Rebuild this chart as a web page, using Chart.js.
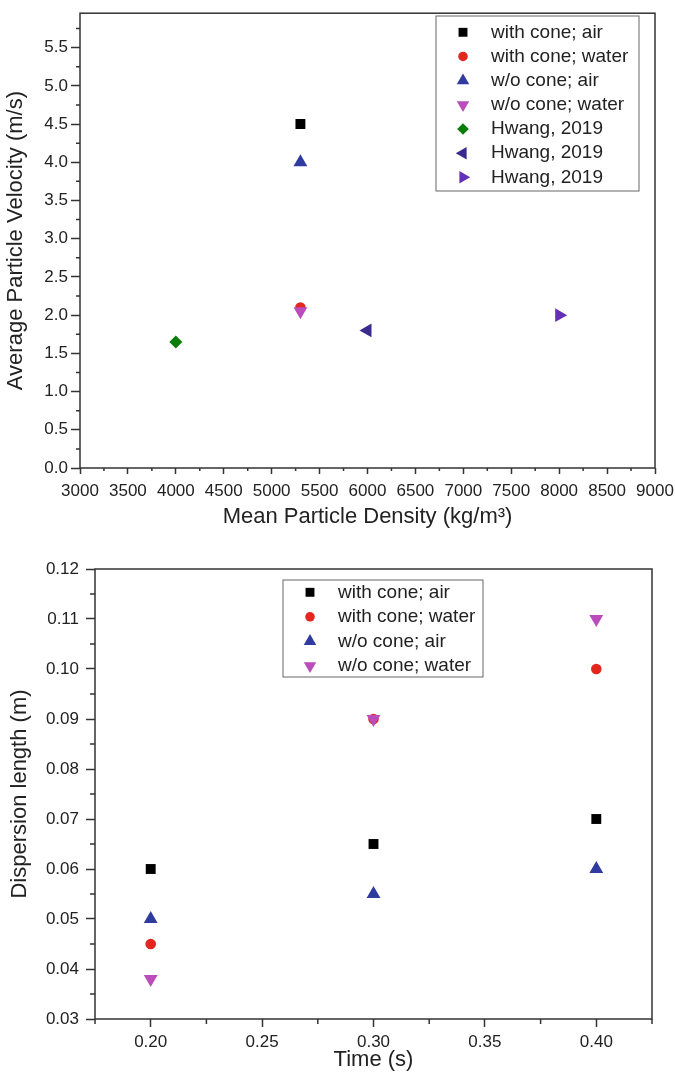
<!DOCTYPE html>
<html>
<head>
<meta charset="utf-8">
<title>Particle velocity and dispersion length</title>
<script src="https://cdn.jsdelivr.net/npm/chart.js@4.4.1/dist/chart.umd.min.js"></script>
<style>
  html, body { margin: 0; padding: 0; background: #fff; }
  .panel { position: absolute; left: 0; width: 675px; }
  #velocityPanel { top: 0; height: 540px; }
  #dispersionPanel { top: 540px; height: 536px; }
</style>
</head>
<body>
<div class="panel" id="velocityPanel"><canvas id="velocityChart"></canvas></div>
<div class="panel" id="dispersionPanel"><canvas id="dispersionChart"></canvas></div>
<script>
// top panel: average particle velocity vs. mean particle density (one point per series)
const velocityLabels = ['with cone; air', 'with cone; water', 'w/o cone; air', 'w/o cone; water',
  'Hwang, 2019', 'Hwang, 2019', 'Hwang, 2019'];
const velocityDensity = [5300, 5300, 5300, 5300, 4000, 6000, 8000];
const velocityValues = [4.5, 2.1, 4.0, 2.05, 1.65, 1.8, 2.0];
const densityTicks = [3000, 3500, 4000, 4500, 5000, 5500, 6000, 6500, 7000, 7500, 8000, 8500, 9000];
const velocityTicks = [0, 0.5, 1.0, 1.5, 2.0, 2.5, 3.0, 3.5, 4.0, 4.5, 5.0, 5.5];

// bottom panel: dispersion length vs. time
const dispersionLabels = ['with cone; air', 'with cone; water', 'w/o cone; air', 'w/o cone; water'];
const timeValues = [0.2, 0.3, 0.4];
const coneAir = [0.060, 0.065, 0.070];
const coneWater = [0.045, 0.090, 0.100];
const noConeAir = [0.050, 0.055, 0.060];
const noConeWater = [0.038, 0.090, 0.110];
const timeTicks = [0.20, 0.25, 0.30, 0.35, 0.40];
const dispersionTicks = [0.03, 0.04, 0.05, 0.06, 0.07, 0.08, 0.09, 0.10, 0.11, 0.12];

const FONT = "'Liberation Sans', Arial, sans-serif";
const INK = '#222';
const AXIS = '#333';
Chart.defaults.font.family = FONT;

const markerStyles = [
  { color: '#000000', pointStyle: 'rect', rotation: 0, radius: 7 },
  { color: '#e3261f', pointStyle: 'circle', rotation: 0, radius: 5.3 },
  { color: '#2f3b9f', pointStyle: 'triangle', rotation: 0, radius: 8 },
  { color: '#bb4cbb', pointStyle: 'triangle', rotation: 180, radius: 8 },
  { color: '#0a7d0a', pointStyle: 'rectRot', rotation: 0, radius: 6.5 },
  { color: '#3b2b8e', pointStyle: 'triangle', rotation: -90, radius: 8 },
  { color: '#6530b8', pointStyle: 'triangle', rotation: 90, radius: 8 }
];

function makeDataset(label, xs, ys, style, order) {
  return {
    label: label,
    data: xs.map((x, i) => ({ x: x, y: ys[i] })),
    pointStyle: style.pointStyle,
    pointRotation: style.rotation,
    pointRadius: style.radius,
    backgroundColor: style.color,
    borderColor: style.color,
    borderWidth: 0,
    order: order
  };
}

// box around the plotting area
const framePlugin = {
  id: 'frame',
  beforeDatasetsDraw(chart) {
    const { ctx, chartArea: a } = chart;
    ctx.save();
    ctx.strokeStyle = AXIS;
    ctx.lineWidth = 1.5;
    ctx.strokeRect(a.left, a.top, a.right - a.left, a.bottom - a.top);
    ctx.restore();
  }
};

// short ticks half way between the labelled ones
const minorTickPlugin = {
  id: 'minorTicks',
  afterDraw(chart, args, opts) {
    const { ctx, chartArea: a } = chart;
    ctx.save();
    ctx.strokeStyle = AXIS;
    ctx.lineWidth = 1.5;
    ctx.beginPath();
    ['x', 'y'].forEach(id => {
      const s = chart.scales[id];
      const t = s.ticks.map(k => k.value);
      const step = t[1] - t[0];
      const eps = step * 1e-6;
      for (let v = t[0] - step / 2; v <= s.max + eps; v += step) {
        if (v < s.min - eps) continue;
        const p = s.getPixelForValue(v);
        if (id === 'x') {
          ctx.moveTo(p, a.bottom);
          ctx.lineTo(p, a.bottom + opts.xLength);
        } else {
          ctx.moveTo(a.left, p);
          ctx.lineTo(a.left - opts.yLength, p);
        }
      }
    });
    ctx.stroke();
    ctx.restore();
  }
};

// framed legend inside the plot
const boxLegendPlugin = {
  id: 'boxLegend',
  afterDraw(chart, args, opts) {
    const ctx = chart.ctx;
    ctx.save();
    ctx.strokeStyle = '#666';
    ctx.lineWidth = 1;
    ctx.strokeRect(opts.left, opts.top, opts.width, opts.height);
    ctx.font = '19px ' + FONT;
    ctx.textBaseline = 'middle';
    ctx.textAlign = 'left';
    chart.data.datasets.forEach((ds, i) => {
      const cy = opts.top + opts.firstRow + i * opts.rowHeight;
      ctx.fillStyle = ds.backgroundColor;
      ctx.strokeStyle = ds.borderColor;
      Chart.helpers.drawPoint(ctx, {
        pointStyle: ds.pointStyle, rotation: ds.pointRotation,
        radius: ds.pointRadius * 0.9, borderWidth: 0
      }, opts.markerX, cy);
      ctx.fillStyle = INK;
      ctx.fillText(ds.label, opts.textX, cy);
    });
    ctx.restore();
  }
};

function axisOptions(cfg) {
  return {
    type: 'linear',
    min: cfg.min,
    max: cfg.max,
    afterBuildTicks: s => { s.ticks = cfg.ticks.map(v => ({ value: v })); },
    afterFit: s => {
      if (cfg.width) s.width = cfg.width;
      if (cfg.height) s.height = cfg.height;
      // the end labels may hang past the plot edge without shrinking it
      s.paddingLeft = s.paddingRight = 0;
    },
    border: { display: false },
    grid: { drawOnChartArea: false, tickLength: cfg.tickLength, tickColor: AXIS, tickWidth: 1.5 },
    ticks: {
      color: INK, font: { size: 17 }, padding: cfg.padding,
      autoSkip: false, maxRotation: 0, callback: v => v.toFixed(cfg.digits)
    },
    title: {
      display: true, text: cfg.title, color: INK, font: { size: 22 },
      padding: cfg.titlePadding
    }
  };
}

new Chart(document.getElementById('velocityChart'), {
  type: 'scatter',
  data: {
    datasets: velocityLabels.map((label, i) =>
      makeDataset(label, [velocityDensity[i]], [velocityValues[i]], markerStyles[i], velocityLabels.length - i))
  },
  options: {
    responsive: true,
    maintainAspectRatio: false,
    animation: false,
    events: [],
    layout: { padding: { top: 5, right: 20, left: 0, bottom: 0 } },
    plugins: {
      legend: { display: false },
      tooltip: { enabled: false },
      minorTicks: { xLength: 3, yLength: 4 },
      boxLegend: { left: 436, top: 16, width: 203, height: 175, firstRow: 16.3, rowHeight: 24.17, markerX: 463, textX: 491 }
    },
    scales: {
      x: axisOptions({ min: 3000, max: 9000, ticks: densityTicks, height: 72, tickLength: 6, padding: 7,
        digits: 0, title: 'Mean Particle Density (kg/m³)', titlePadding: { top: 0, bottom: 10 } }),
      y: axisOptions({ min: 0, max: 5.95, ticks: velocityTicks, width: 80, tickLength: 9, padding: 3,
        digits: 1, title: 'Average Particle Velocity (m/s)', titlePadding: { top: 3, bottom: 0 } })
    }
  },
  plugins: [framePlugin, minorTickPlugin, boxLegendPlugin]
});

const dispersionSeries = [coneAir, coneWater, noConeAir, noConeWater];

new Chart(document.getElementById('dispersionChart'), {
  type: 'scatter',
  data: {
    datasets: dispersionLabels.map((label, i) =>
      makeDataset(label, timeValues, dispersionSeries[i], markerStyles[i], dispersionLabels.length - i))
  },
  options: {
    responsive: true,
    maintainAspectRatio: false,
    animation: false,
    events: [],
    layout: { padding: { top: 29, right: 23, left: 0, bottom: 0 } },
    plugins: {
      legend: { display: false },
      tooltip: { enabled: false },
      minorTicks: { xLength: 5, yLength: 5 },
      boxLegend: { left: 283, top: 40, width: 200, height: 97, firstRow: 12.3, rowHeight: 24.5, markerX: 310, textX: 338 }
    },
    scales: {
      x: axisOptions({ min: 0.175, max: 0.425, ticks: timeTicks, height: 57, tickLength: 8, padding: 5,
        digits: 2, title: 'Time (s)', titlePadding: { top: 0, bottom: 3 } }),
      y: axisOptions({ min: 0.03, max: 0.12, ticks: dispersionTicks, width: 95, tickLength: 9, padding: 7,
        digits: 2, title: 'Dispersion length (m)', titlePadding: { top: 7, bottom: 0 } })
    }
  },
  plugins: [framePlugin, minorTickPlugin, boxLegendPlugin]
});
</script>
</body>
</html>
